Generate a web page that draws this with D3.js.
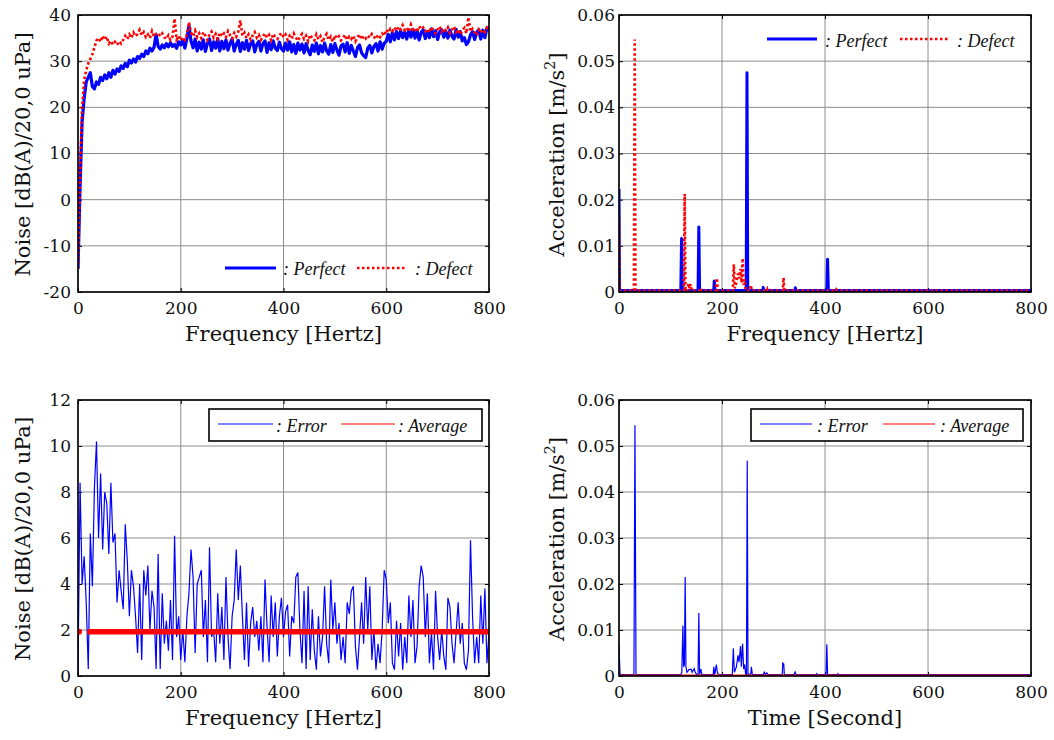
<!DOCTYPE html>
<html>
<head>
<meta charset="utf-8">
<script src="https://cdn.jsdelivr.net/npm/d3@7"></script>
<style>
  body { margin: 0; background: #fff; }
  svg { display: block; }
</style>
</head>
<body>
<svg id="chart" width="1054" height="740"></svg>
<script>
// ---------------- DATA ----------------
const xTicks = [0, 200, 400, 600, 800];
const xTickLabels = ["0", "200", "400", "600", "800"];

// Panel A: noise spectra (step of 4 Hz from 0 to 800)
const noiseStep = 4;
const noisePerfect = [
  -15, 3, 17, 22, 25.5, 26.5, 27.5, 24.5, 24, 25.5,
  25, 26.5, 25.8, 27, 26.2, 27.5, 26.5, 28, 27.2, 28.3,
  27.8, 29, 28.4, 29.5, 28.8, 30.2, 29.6, 30.5, 29.8, 31,
  30.6, 31.5, 31, 32.2, 31.6, 32.8, 32.2, 33, 35.8, 33.2,
  32.6, 33.5, 32.9, 33.8, 33.1, 34, 33.2, 33.6, 32.8, 34.2,
  33.5, 34.6, 32.8, 34.9, 37.8, 34.3, 32.9, 34.8, 32.2, 34.1,
  32.6, 34.6, 32.1, 33.9, 34.8, 32.3, 34.2, 32.8, 34.9, 32.2,
  34.3, 32.7, 34.6, 32.4, 33.9, 34.8, 32.2, 33.6, 34.5, 32.1,
  34, 32.6, 34.5, 32.3, 33.8, 34.4, 32, 33.6, 34.3, 32.2,
  33.8, 34.4, 31.9, 34, 32.5, 34.4, 32.8, 32.3, 34.1, 32.7,
  32.2, 33.9, 32.4, 34.2, 32, 33.6, 31.7, 33.9, 32.4, 33.7,
  31.8, 33.8, 32.3, 31.4, 33.5, 32.1, 33.9, 31.6, 33.4, 32,
  33.9, 32.2, 31.5, 33.6, 31.9, 33.8, 32.4, 31.3, 33.3, 33.7,
  32, 34, 31.7, 33.4, 32.2, 31, 32.9, 33.5, 31.8, 31.2,
  30.8, 32.8, 33.4, 31.8, 33.2, 33.8, 32.2, 34.2, 32.6, 33.9,
  34.3, 35.8, 34.2, 36.2, 34.6, 36.4, 34.9, 36.6, 35.1, 36.3,
  34.8, 36.7, 35.2, 36.9, 35, 36.5, 34.6, 36.2, 36.8, 34.9,
  36.4, 35.1, 37, 35.3, 36.6, 34.7, 36.3, 36.8, 35.2, 36.5,
  35, 36.7, 35.4, 34.8, 36.9, 35.2, 36.4, 34.4, 35.1, 33.6,
  34.2, 35.7, 36.4, 34.7, 36.2, 36.8, 34.8, 36.7, 35.1, 37.2,
  37
];
const noiseDefect = [
  -15, 5, 20, 26, 28, 29.5, 30.5, 31.5, 33, 34.5,
  35, 34.2, 35.5, 34.6, 35.3, 33.8, 34.4, 33.6, 34.2, 33.5,
  34.3, 33.8, 34.6, 35.5, 34.8, 35.8, 35, 36.2, 35.4, 35.9,
  36.8, 35.6, 36.3, 35.2, 35.8, 35, 36.5, 35.3, 35.9, 36.1,
  35.4, 36, 35.2, 34.8, 35.6, 34.6, 35.3, 39.2, 34.7, 35.5,
  34.5, 35.2, 34.6, 35.8, 38.4, 36.2, 35.4, 36.6, 35.2, 36,
  35, 36.3, 35.5, 34.6, 35.8, 36.4, 35.1, 35.9, 34.8, 36.2,
  35.4, 36, 35.2, 36.5, 35.6, 34.9, 36.1, 35.3, 36.4, 38.8,
  35.5, 36.2, 35, 35.8, 34.7, 35.6, 36.3, 35.1, 35.7, 34.6,
  35.4, 36, 35.1, 35.7, 34.5, 35.9, 35.2, 34.8, 35.6, 36.1,
  35.2, 35.8, 34.6, 35.5, 34.9, 36, 35.1, 34.4, 35.3, 35.9,
  34.8, 35.5, 34.3, 35.7, 35, 34.5, 35.8, 34.7, 35.4, 34.1,
  35.2, 35.9, 34.6, 35.3, 34.2, 35.6, 34.9, 35.4, 34.5, 35.1,
  35.7, 34.6, 35.3, 34.8, 35.5, 34.3, 35.2, 35.8, 34.7, 35.4,
  34.9, 35.6, 35.1, 35.9, 35.3, 34.8, 35.7, 35.2, 36, 35.5,
  36.8, 36.2, 37, 36.5, 37.3, 36.6, 37.5, 36.9, 37.8, 36.7,
  37.2, 36.4, 37.9, 36.8, 37.1, 36.3, 37.6, 36.9, 37.3, 36.5,
  37, 36.2, 37.4, 36.7, 36, 36.9, 37.5, 36.4, 37.1, 36.6,
  37.3, 36.1, 36.8, 37.5, 36.3, 36.9, 35.8, 36.6, 37.2, 36,
  39.5, 36.4, 37, 36.2, 35.6, 36.8, 36.1, 36.9, 36.3, 37.2,
  36.5
];
const noiseYTicks = [-20, -10, 0, 10, 20, 30, 40];
const noiseYTickLabels = ["-20", "-10", "0", "10", "20", "30", "40"];

// Panel B: acceleration spectra (frequency, value pairs)
const accPerfectFreq = [0, 1, 120, 121.5, 123, 153.5, 155, 156.5, 184, 185, 186.5, 247, 248.5, 250, 279, 280, 281, 341.5, 342.5, 343.5, 403.5, 405, 406.5, 800];
const accPerfectVal  = [0.0223, 0.0003, 0.0003, 0.0116, 0.0003, 0.0003, 0.0141, 0.0003, 0.0003, 0.0024, 0.0003, 0.0003, 0.0475, 0.0003, 0.0003, 0.001, 0.0003, 0.0003, 0.0009, 0.0003, 0.0003, 0.0071, 0.0003, 0.0003];
const accDefectFreq = [0, 1, 29, 30.5, 32, 126, 127.5, 129, 133, 135, 137, 139, 141, 158, 159, 160, 188, 190, 192, 221, 223, 225, 228, 231, 233, 236, 238, 240, 242, 244, 246, 254, 256, 258, 287, 288, 289, 318, 319.5, 321, 421, 422, 423, 800];
const accDefectVal  = [0.0156, 0.0003, 0.0003, 0.0547, 0.0003, 0.0003, 0.0212, 0.0003, 0.0003, 0.0018, 0.0008, 0.0017, 0.0003, 0.0003, 0.0008, 0.0003, 0.0003, 0.003, 0.0003, 0.0003, 0.006, 0.0008, 0.002, 0.004, 0.003, 0.005, 0.002, 0.0073, 0.0015, 0.0028, 0.0003, 0.0003, 0.0015, 0.0003, 0.0003, 0.0006, 0.0003, 0.0003, 0.0031, 0.0003, 0.0003, 0.0005, 0.0003, 0.0003];
const accYTicks = [0, 0.01, 0.02, 0.03, 0.04, 0.05, 0.06];
const accYTickLabels = ["0", "0.01", "0.02", "0.03", "0.04", "0.05", "0.06"];

// Panel C: noise error (step of 4 Hz) and its average
const noiseErrStep = 4;
const noiseError = [
  0.2, 8.4, 4.0, 5.2, 3.2, 0.3, 6.2, 3.9, 8.2, 10.2,
  6.0, 8.8, 5.5, 8.0, 7.5, 5.3, 8.4, 5.8, 6.2, 3.2,
  4.6, 3.7, 2.9, 6.6, 5.0, 2.6, 4.6, 3.9, 2.6, 1.0,
  4.0, 0.7, 4.6, 3.5, 4.8, 2.0, 3.7, 3.0, 0.3, 5.3,
  0.3, 3.6, 1.4, 2.4, 1.1, 3.3, 0.7, 6.1, 1.7, 2.6,
  0.7, 2.0, 0.6, 2.6, 3.6, 5.5, 4.3, 1.0, 4.0, 4.3,
  4.6, 1.7, 3.3, 0.6, 5.6, 1.7, 2.0, 0.6, 3.6, 1.4,
  3.0, 0.7, 4.3, 1.7, 0.3, 2.6, 3.3, 5.5, 3.3, 4.8,
  2.6, 0.7, 3.2, 0.4, 2.3, 3.0, 1.7, 2.4, 1.1, 2.6,
  0.6, 4.2, 2.1, 0.6, 3.5, 1.7, 3.2, 0.85, 2.6, 3.4,
  1.7, 2.8, 3.1, 0.85, 2.6, 2.3, 4.3, 4.5, 2.0, 0.56,
  3.7, 0.3, 3.9, 0.7, 2.9, 1.1, 0.27, 2.6, 0.85, 1.7,
  3.9, 1.4, 0.56, 4.2, 2.0, 3.2, 1.4, 2.3, 0.7, 1.7,
  0.56, 3.2, 2.7, 3.7, 3.9, 1.3, 0.27, 1.7, 3.2, 1.4,
  4.3, 2.0, 3.9, 0.7, 2.0, 0.27, 1.4, 0.56, 2.0, 4.6,
  4.2, 2.3, 3.2, 0.56, 0.27, 2.4, 0.85, 2.3, 0.27, 1.7,
  0.56, 3.5, 1.7, 3.3, 0.56, 1.3, 3.9, 4.8, 4.3, 1.7,
  3.6, 0.56, 1.9, 0.27, 3.7, 1.7, 0.7, 2.0, 0.85, 0.27,
  3.4, 3.0, 1.4, 0.56, 1.9, 3.2, 1.4, 2.3, 0.56, 0.27,
  1.1, 5.9, 2.6, 0.56, 1.7, 0.56, 3.5, 1.4, 3.8, 0.56,
  1.9
];
const noiseAverage = 1.92;
const noiseAvgFreq = [18, 800];
const noiseErrYTicks = [0, 2, 4, 6, 8, 10, 12];
const noiseErrYTickLabels = ["0", "2", "4", "6", "8", "10", "12"];

// Panel D: acceleration error and its average
const accErrFreq = [0, 2, 29, 31, 33, 120, 122, 124, 125.5, 127, 128.5, 130, 132, 136, 140, 142, 146, 148, 151, 153.5, 155, 156.5, 159, 161, 183, 184, 186, 189, 191, 193, 220, 222, 224, 228, 231, 233, 236, 237.5, 240, 242, 244, 246, 247.5, 249, 250.5, 256, 257, 259, 280, 282, 284, 287, 289, 317, 318, 320, 321, 340, 342, 344, 383, 384, 385, 402, 403.5, 405, 424, 425, 426, 800];
const accErrVal  = [0.0066, 0.0003, 0.0003, 0.0545, 0.0003, 0.0003, 0.0008, 0.011, 0.002, 0.0025, 0.0215, 0.002, 0.0008, 0.0014, 0.0015, 0.0008, 0.0016, 0.0008, 0.0003, 0.0003, 0.0137, 0.0003, 0.0015, 0.0003, 0.0003, 0.002, 0.0003, 0.0025, 0.0008, 0.0003, 0.0003, 0.006, 0.0008, 0.002, 0.0045, 0.003, 0.0065, 0.002, 0.007, 0.0015, 0.0025, 0.0003, 0.0003, 0.0468, 0.0003, 0.0005, 0.002, 0.0003, 0.0003, 0.0008, 0.0003, 0.0007, 0.0003, 0.0003, 0.0028, 0.0026, 0.0003, 0.0003, 0.0009, 0.0003, 0.0003, 0.0005, 0.0003, 0.0003, 0.0069, 0.0003, 0.0003, 0.0005, 0.0003, 0.0003];
const accAverage = 0.0002;

// ---------------- DRAWING ----------------
const svg = d3.select("#chart");
const TICK_FONT = "'DejaVu Serif', serif";
const LEG_FONT = "'Liberation Serif', 'Times New Roman', serif";
const BLUE = "#0000ff", RED = "#ff0000";

function panel(opts) {
  const x = d3.scaleLinear().domain([0, 800]).range([opts.x0, opts.x1]);
  const y = d3.scaleLinear().domain(opts.yDomain).range([opts.y1, opts.y0]);
  const g = svg.append("g");
  const id = "clip" + opts.id;
  svg.append("defs").append("clipPath").attr("id", id)
    .append("rect").attr("x", opts.x0).attr("y", opts.y0)
    .attr("width", opts.x1 - opts.x0).attr("height", opts.y1 - opts.y0);

  // grid
  const grid = g.append("g").attr("stroke", "#8c8c8c").attr("stroke-width", 1);
  xTicks.forEach(v => grid.append("line").attr("x1", x(v)).attr("x2", x(v))
    .attr("y1", opts.y0).attr("y2", opts.y1));
  opts.yTicks.forEach(v => grid.append("line").attr("x1", opts.x0).attr("x2", opts.x1)
    .attr("y1", y(v)).attr("y2", y(v)));

  // axes (inner ticks)
  const lab = (arr, vals) => (d) => arr[vals.indexOf(d)];
  const ax = g.append("g").attr("transform", `translate(0,${opts.y1})`)
    .call(d3.axisBottom(x).tickValues(xTicks).tickFormat(lab(xTickLabels, xTicks))
      .tickSizeInner(-4).tickSizeOuter(0).tickPadding(10));
  const axT = g.append("g").attr("transform", `translate(0,${opts.y0})`)
    .call(d3.axisTop(x).tickValues(xTicks).tickFormat("").tickSizeInner(-4).tickSizeOuter(0));
  const ay = g.append("g").attr("transform", `translate(${opts.x0},0)`)
    .call(d3.axisLeft(y).tickValues(opts.yTicks).tickFormat(lab(opts.yTickLabels, opts.yTicks))
      .tickSizeInner(-4).tickSizeOuter(0).tickPadding(opts.yPad));
  const ayR = g.append("g").attr("transform", `translate(${opts.x1},0)`)
    .call(d3.axisRight(y).tickValues(opts.yTicks).tickFormat("").tickSizeInner(-4).tickSizeOuter(0));
  [ax, axT, ay, ayR].forEach(a => {
    a.select(".domain").remove();
    a.selectAll("line").attr("stroke", "#000").attr("stroke-width", 1);
    a.selectAll("text").attr("font-family", TICK_FONT).attr("font-size", 17).attr("fill", "#111");
  });

  // data layer
  const dataG = g.append("g").attr("clip-path", `url(#${id})`);

  // box
  g.append("rect").attr("x", opts.x0).attr("y", opts.y0)
    .attr("width", opts.x1 - opts.x0).attr("height", opts.y1 - opts.y0)
    .attr("fill", "none").attr("stroke", "#000").attr("stroke-width", 1.6);

  // x label
  g.append("text").attr("x", (opts.x0 + opts.x1) / 2).attr("y", opts.y1 + 49)
    .attr("text-anchor", "middle").attr("font-family", TICK_FONT).attr("font-size", 21)
    .attr("fill", "#111").text(opts.xLabel);
  // y label
  const yl = g.append("text")
    .attr("transform", `translate(${opts.yLabelX},${(opts.y0 + opts.y1) / 2 + 1}) rotate(-90)`)
    .attr("text-anchor", "middle").attr("font-family", TICK_FONT).attr("font-size", 21)
    .attr("fill", "#111");
  if (opts.ySup) {
    yl.append("tspan").text(opts.yLabel);
    yl.append("tspan").attr("font-size", 14).attr("dy", -9).text(opts.ySup);
    yl.append("tspan").attr("dy", 9).text("]");
  } else {
    yl.text(opts.yLabel);
  }
  return { x, y, dataG, g };
}

function legendItem(g, x1, x2, ly, color, width, dash, label, tx, ty) {
  const l = g.append("line").attr("x1", x1).attr("x2", x2).attr("y1", ly).attr("y2", ly)
    .attr("stroke", color).attr("stroke-width", width);
  if (dash) l.attr("stroke-dasharray", dash);
  g.append("text").attr("x", tx).attr("y", ty).attr("font-family", LEG_FONT)
    .attr("font-style", "italic").attr("font-size", 18).attr("fill", "#111").text(label);
}

// ---- Panel A
{
  const p = panel({ id: "A", x0: 78, x1: 489, y0: 15, y1: 292, yDomain: [-20, 40],
    yTicks: noiseYTicks, yTickLabels: noiseYTickLabels, yPad: 7,
    xLabel: "Frequency [Hertz]", yLabel: "Noise [dB(A)/20,0 uPa]", yLabelX: 30 });
  const line = d3.line().x((d, i) => p.x(i * noiseStep)).y(d => p.y(d));
  p.dataG.append("path").datum(noisePerfect).attr("d", line)
    .attr("fill", "none").attr("stroke", BLUE).attr("stroke-width", 3.2).attr("stroke-linejoin", "round");
  p.dataG.append("path").datum(noiseDefect).attr("d", line)
    .attr("fill", "none").attr("stroke", RED).attr("stroke-width", 2.6)
    .attr("stroke-dasharray", "2.5,2.5");
  legendItem(p.g, 225, 276, 268, BLUE, 3, null, ": Perfect", 283, 275);
  legendItem(p.g, 357, 407, 268, RED, 2.6, "2.5,2.5", ": Defect", 415, 275);
}

// ---- Panel B
{
  const p = panel({ id: "B", x0: 619, x1: 1031, y0: 15, y1: 292, yDomain: [0, 0.06],
    yTicks: accYTicks, yTickLabels: accYTickLabels, yPad: 4,
    xLabel: "Frequency [Hertz]", yLabel: "Acceleration [m/s", ySup: "2", yLabelX: 564 });
  const pts = (fs, vs) => fs.map((f, i) => [f, vs[i]]);
  const line = d3.line().x(d => p.x(d[0])).y(d => p.y(d[1]));
  p.dataG.append("path").datum(pts(accPerfectFreq, accPerfectVal)).attr("d", line)
    .attr("fill", "none").attr("stroke", BLUE).attr("stroke-width", 3).attr("stroke-linejoin", "round");
  p.dataG.append("path").datum(pts(accDefectFreq, accDefectVal)).attr("d", line)
    .attr("fill", "none").attr("stroke", RED).attr("stroke-width", 2.6)
    .attr("stroke-dasharray", "2.5,2.5");
  legendItem(p.g, 767, 817, 39, BLUE, 3, null, ": Perfect", 825, 47);
  legendItem(p.g, 900, 950, 39, RED, 2.6, "2.5,2.5", ": Defect", 957, 47);
}

// ---- Panel C
{
  const p = panel({ id: "C", x0: 78, x1: 489, y0: 400, y1: 676, yDomain: [0, 12],
    yTicks: noiseErrYTicks, yTickLabels: noiseErrYTickLabels, yPad: 7,
    xLabel: "Frequency [Hertz]", yLabel: "Noise [dB(A)/20,0 uPa]", yLabelX: 30 });
  const line = d3.line().x((d, i) => p.x(i * noiseErrStep)).y(d => p.y(d));
  p.dataG.append("path").datum(noiseError).attr("d", line)
    .attr("fill", "none").attr("stroke", BLUE).attr("stroke-width", 1.2);
  p.dataG.append("line").attr("x1", p.x(noiseAvgFreq[0])).attr("x2", p.x(noiseAvgFreq[1]))
    .attr("y1", p.y(noiseAverage)).attr("y2", p.y(noiseAverage))
    .attr("stroke", RED).attr("stroke-width", 5.5);
  p.dataG.append("circle").attr("cx", p.x(0) + 1).attr("cy", p.y(noiseAverage)).attr("r", 3)
    .attr("fill", RED);
  const lg = p.g.append("g");
  lg.append("rect").attr("x", 209).attr("y", 409).attr("width", 273).attr("height", 32)
    .attr("fill", "#fff").attr("stroke", "#000").attr("stroke-width", 1.6);
  legendItem(lg, 218, 273, 424, BLUE, 1.2, null, ": Error", 276, 432);
  legendItem(lg, 341, 395, 424, RED, 1.2, null, ": Average", 398, 432);
}

// ---- Panel D
{
  const p = panel({ id: "D", x0: 619, x1: 1031, y0: 400, y1: 676, yDomain: [0, 0.06],
    yTicks: accYTicks, yTickLabels: accYTickLabels, yPad: 4,
    xLabel: "Time [Second]", yLabel: "Acceleration [m/s", ySup: "2", yLabelX: 564 });
  const pts = accErrFreq.map((f, i) => [f, accErrVal[i]]);
  const line = d3.line().x(d => p.x(d[0])).y(d => p.y(d[1]));
  p.dataG.append("path").datum(pts).attr("d", line)
    .attr("fill", "none").attr("stroke", BLUE).attr("stroke-width", 1.2);
  p.dataG.append("line").attr("x1", p.x(0)).attr("x2", p.x(800))
    .attr("y1", p.y(accAverage)).attr("y2", p.y(accAverage))
    .attr("stroke", RED).attr("stroke-width", 1.2);
  const lg = p.g.append("g");
  lg.append("rect").attr("x", 751).attr("y", 409).attr("width", 272).attr("height", 32)
    .attr("fill", "#fff").attr("stroke", "#000").attr("stroke-width", 1.6);
  legendItem(lg, 760, 812, 424, BLUE, 1.2, null, ": Error", 817, 432);
  legendItem(lg, 883, 935, 424, RED, 1.2, null, ": Average", 940, 432);
}
</script>
</body>
</html>
